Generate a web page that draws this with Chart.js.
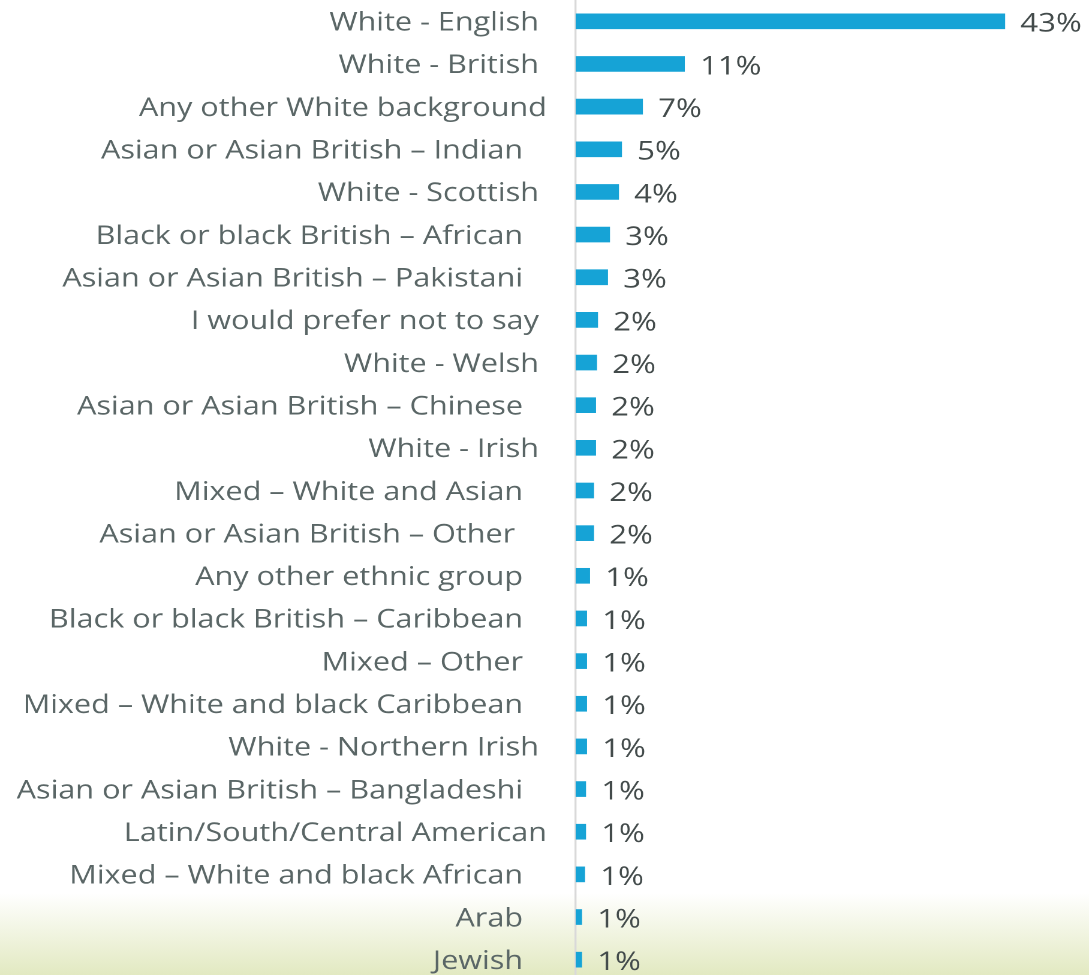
<!DOCTYPE html>
<html>
<head>
<meta charset="utf-8">
<script src="https://cdn.jsdelivr.net/npm/chart.js@4/dist/chart.umd.min.js"></script>
<style>
    html, body { margin: 0; padding: 0; }
    body {
        width: 1089px;
        height: 975px;
        overflow: hidden;
        background: linear-gradient(to bottom, #ffffff 0px, #ffffff 893px, #e2e9c1 975px);
    }
    /* chart is laid out narrow and widened on screen */
    #wrap {
        position: relative;
        width: 908px;
        height: 981px;
        transform: scaleX(1.1993);
        transform-origin: 0 0;
    }
</style>
</head>
<body>
<div id="wrap"><canvas id="ethnicityChart"></canvas></div>
<script>
// trailing spaces kept as in the survey export, they shift the labels left
const categories = [
    'White - English ',
    'White - British ',
    'Any other White background',
    'Asian or Asian British – Indian   ',
    'White - Scottish ',
    'Black or black British – African   ',
    'Asian or Asian British – Pakistani   ',
    'I would prefer not to say ',
    'White - Welsh ',
    'Asian or Asian British – Chinese   ',
    'White - Irish ',
    'Mixed – White and Asian   ',
    'Asian or Asian British – Other    ',
    'Any other ethnic group   ',
    'Black or black British – Caribbean   ',
    'Mixed – Other   ',
    'Mixed – White and black Caribbean   ',
    'White - Northern Irish ',
    'Asian or Asian British – Bangladeshi   ',
    'Latin/South/Central American',
    'Mixed – White and black African   ',
    'Arab   ',
    'Jewish   '
];

const shares = [43, 10.9, 6.7, 4.6, 4.3, 3.4, 3.2, 2.2, 2.1, 2.0, 2.0, 1.8, 1.8, 1.4, 1.1, 1.1, 1.1, 1.1, 1.0, 1.0, 0.9, 0.6, 0.6];

const BAR_COLOR = '#16a3d6';
const LABEL_COLOR = '#5a6666';
const VALUE_COLOR = '#434b4b';

// percentage text to the right of each bar
const valueLabels = {
    id: 'valueLabels',
    afterDatasetsDraw(chart) {
        const ctx = chart.ctx;
        const meta = chart.getDatasetMeta(0);
        const data = chart.data.datasets[0].data;
        ctx.save();
        ctx.font = '400 26px "Open Sans"';
        ctx.fillStyle = VALUE_COLOR;
        ctx.textAlign = 'left';
        ctx.textBaseline = 'middle';
        meta.data.forEach((bar, i) => {
            ctx.fillText(Math.round(data[i]) + '%', bar.x + 13, bar.y + 3);
        });
        ctx.restore();
    }
};

new Chart(document.getElementById('ethnicityChart'), {
    type: 'bar',
    data: {
        labels: categories,
        datasets: [{
            data: shares,
            backgroundColor: BAR_COLOR,
            borderWidth: 0,
            barThickness: 15
        }]
    },
    options: {
        indexAxis: 'y',
        responsive: true,
        maintainAspectRatio: false,
        devicePixelRatio: 2,
        animation: false,
        layout: { padding: { top: 0, right: 12, bottom: 0, left: 0 } },
        plugins: {
            legend: { display: false },
            title: { display: false },
            tooltip: { enabled: false }
        },
        scales: {
            x: {
                display: false,
                min: 0,
                max: 50
            },
            y: {
                // fixed label column, and no extra room above/below the rows
                afterFit(axis) {
                    axis.width = 480;
                    axis.paddingTop = 0;
                    axis.paddingBottom = 0;
                },
                grid: { display: false, drawTicks: false },
                border: { display: true, color: '#d9d9d9', width: 1.7 },
                ticks: {
                    autoSkip: false,
                    padding: 24,
                    labelOffset: 2,
                    color: LABEL_COLOR,
                    font: { family: 'Open Sans', size: 25.5 }
                }
            }
        }
    },
    plugins: [valueLabels]
});
</script>
</body>
</html>
